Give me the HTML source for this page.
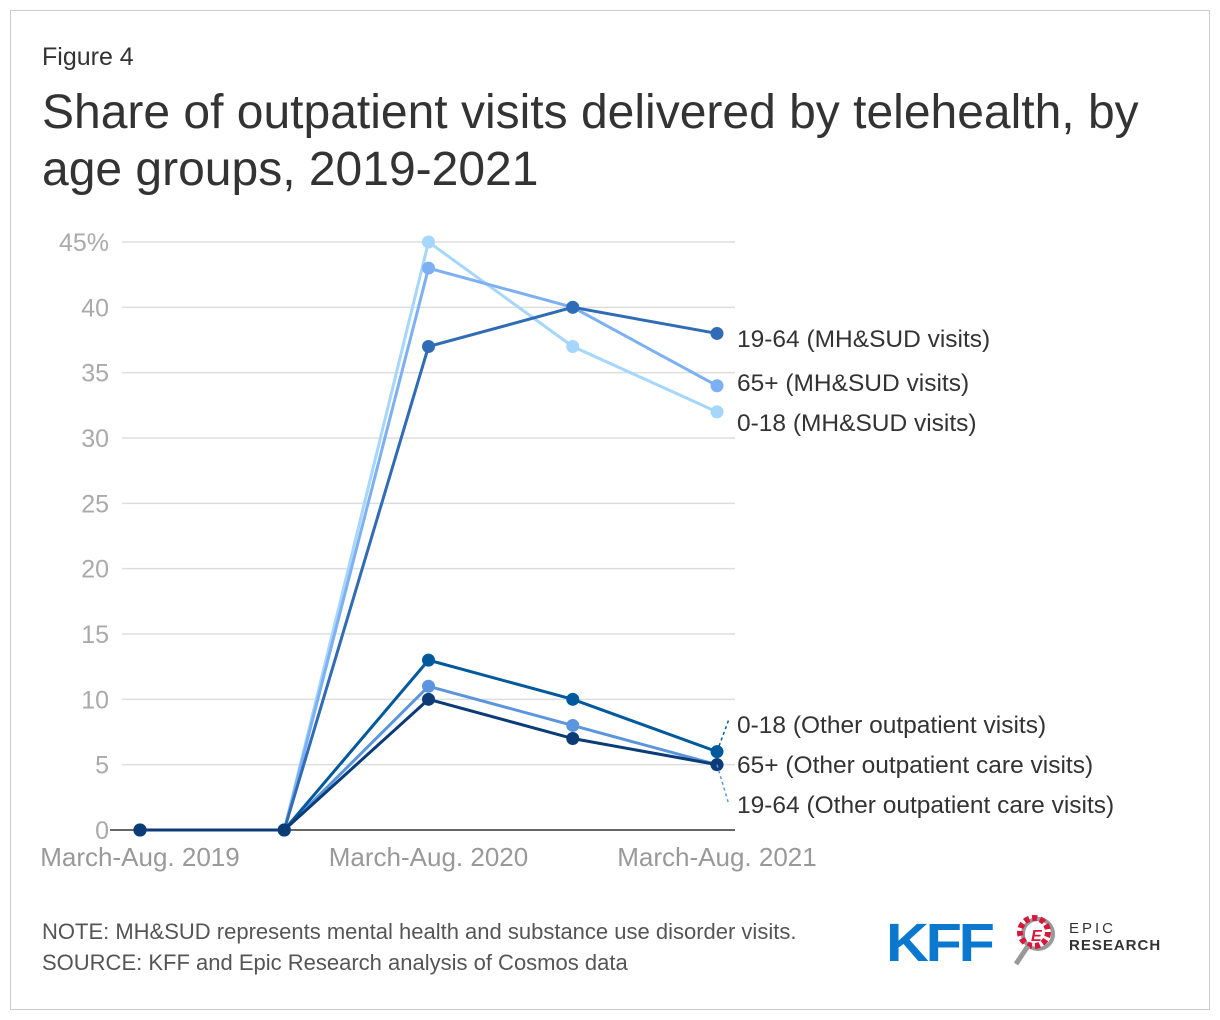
<!DOCTYPE html>
<html><head><meta charset="utf-8"><style>
body{margin:0;background:#fff;font-family:"Liberation Sans",Arial,sans-serif;}
#frame{position:absolute;left:10px;top:10px;width:1198px;height:998px;border:1px solid #ccc;}
.t{position:absolute;color:#333;}
</style></head><body>
<div id="frame"></div>
<div class="t" style="left:42px;top:43px;font-size:25px;">Figure 4</div>
<div class="t" style="left:42px;top:84px;font-size:48px;line-height:57px;width:1150px;">Share of outpatient visits delivered by telehealth, by age groups, 2019-2021</div>
<svg id="chart" width="1220" height="1020" style="position:absolute;left:0;top:0"></svg>
<div class="t" style="left:42px;top:916px;font-size:22px;color:#555;line-height:31px">NOTE: MH&amp;SUD represents mental health and substance use disorder visits.<br>SOURCE: KFF and Epic Research analysis of Cosmos data</div>
<div style="position:absolute;left:886px;top:912px;font-size:54px;font-weight:bold;color:#0b78d0;letter-spacing:-3px;font-family:'Liberation Sans',sans-serif;transform:scaleX(1.1);transform-origin:left">KFF</div>
<svg style="position:absolute;left:1012px;top:912px" width="60" height="60">
<circle cx="26" cy="22" r="15" fill="none" stroke="#999" stroke-width="4"/>
<circle cx="22" cy="20" r="14" fill="none" stroke="#d8173c" stroke-width="6" stroke-dasharray="5 3"/>
<line x1="16" y1="34" x2="4" y2="52" stroke="#999" stroke-width="5"/>
<text x="19" y="29" font-size="16" font-weight="bold" font-style="italic" fill="#d8173c">E</text>
</svg>
<div style="position:absolute;left:1069px;top:920px;font-size:15px;color:#333;letter-spacing:3px;line-height:17px">EPIC<br><b style="letter-spacing:1px">RESEARCH</b></div>
<script>
const categories=["March-Aug. 2019","","March-Aug. 2020","","March-Aug. 2021"];
const yTicks=[0,5,10,15,20,25,30,35,40,45];
const s1964mh=[0,0,37,40,38];
const s65mh=[0,0,43,40,34];
const s018mh=[0,0,45,37,32];
const s018oth=[0,0,13,10,6];
const s65oth=[0,0,11,8,5];
const s1964oth=[0,0,10,7,5];
const seriesNames=["19-64 (MH&SUD visits)","65+ (MH&SUD visits)","0-18 (MH&SUD visits)","0-18 (Other outpatient visits)","65+ (Other outpatient care visits)","19-64 (Other outpatient care visits)"];
const svg=document.getElementById('chart');
const NS='http://www.w3.org/2000/svg';
const x=i=>140+i*144.25;
const y=v=>830-v*13.067;
function mk(t,a){const e=document.createElementNS(NS,t);for(const k in a)e.setAttribute(k,a[k]);svg.appendChild(e);return e;}
yTicks.forEach(v=>{
 if(v>0){const g=mk('line',{x1:122,x2:735,y1:y(v),y2:y(v),stroke:'#ddd','stroke-width':1.5});
 
 }
 const t=mk('text',{x:109,y:y(v)+9,'text-anchor':'end','font-size':25,fill:'#aaa'});
 t.textContent=v===45?'45%':v;
 
 
});
const ax=mk('line',{x1:110,x2:735,y1:830,y2:830,stroke:'#333','stroke-width':1.5});


categories.forEach((c,i)=>{if(!c)return;
 const t=mk('text',{x:x(i),y:866,'text-anchor':'middle','font-size':26,fill:'#999'});t.textContent=c;
 
 });
const data=[s018mh,s65mh,s1964mh,s65oth,s018oth,s1964oth];
const colors=['#a6d6fb','#7db0f2','#2f6cb5','#5b95dd','#00599c','#0b3c78'];
const names=['series-0-18-mhsud','series-65-mhsud','series-19-64-mhsud','series-65-other','series-0-18-other','series-19-64-other'];
data.forEach((d,si)=>{
 const p=mk('polyline',{points:d.map((v,i)=>x(i)+','+y(v)).join(' '),fill:'none',stroke:colors[si],'stroke-width':3});
 
 
 d.forEach((v,i)=>{const c=mk('circle',{cx:x(i),cy:y(v),r:6.5,fill:colors[si]});
 
 });
});
const labY=[347,391,431,733,773,813];
const labSrc=[s1964mh,s65mh,s018mh,s018oth,s65oth,s1964oth];
[3,5].forEach(k=>{const l=mk('line',{x1:x(4),y1:y(labSrc[k][4]),x2:729,y2:labY[k]-(k===3?14:8),stroke:k===3?'#00599c':'#5b95dd','stroke-width':1.5,'stroke-dasharray':'3 3'});
 
 });
seriesNames.forEach((n,k)=>{const t=mk('text',{x:737,y:labY[k],'font-size':24.5,fill:'#333'});t.textContent=n;
 
 });
</script>
</body></html>
